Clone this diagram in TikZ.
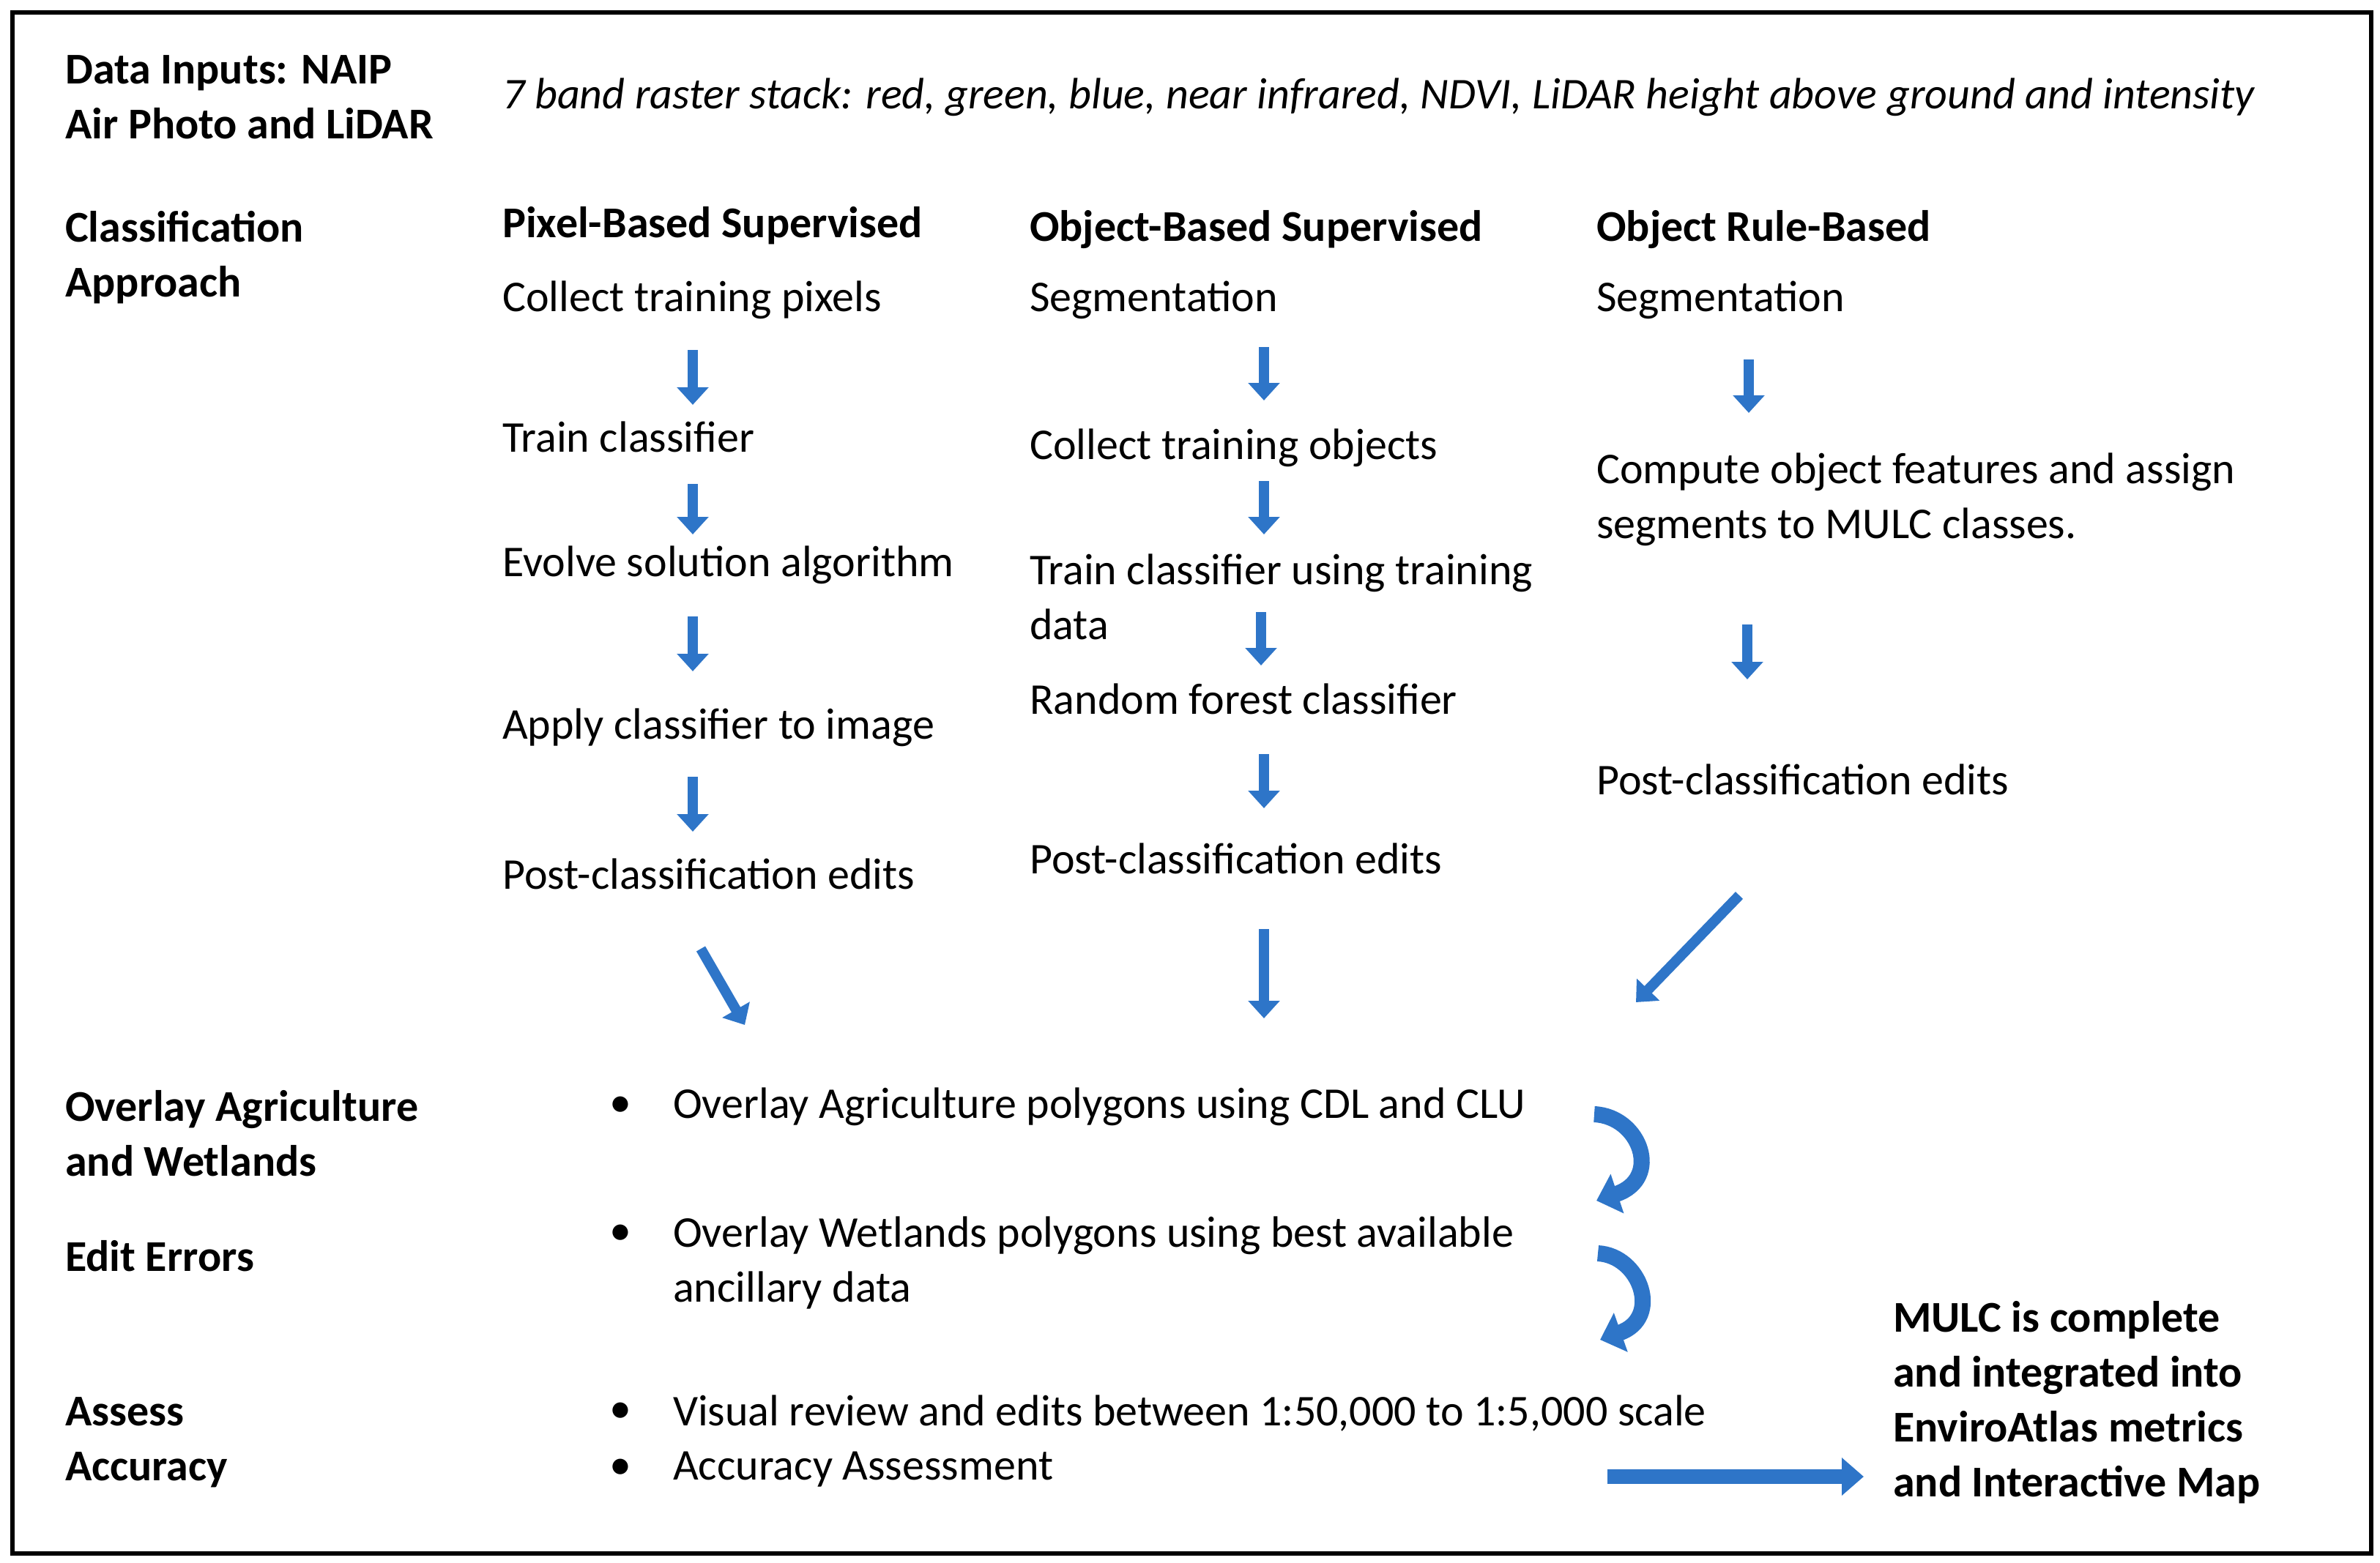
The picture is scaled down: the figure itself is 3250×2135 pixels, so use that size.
\documentclass[tikz,border=0pt]{standalone}
\usepackage{fontspec}
\setmainfont{Carlito}
\usetikzlibrary{arrows.meta}
\definecolor{ab}{RGB}{46,117,200}
\begin{document}
\begin{tikzpicture}[x=1pt,y=-1pt,
 t/.style={anchor=west,inner sep=0pt,font=\fontsize{60}{75}\selectfont,align=left},
 b/.style={t,font=\fontsize{60}{75}\selectfont\bfseries},
 ar/.style={draw=ab,line width=14pt,-{Triangle[width=42pt,length=24pt]}},
 car/.style={draw=ab,line width=22pt,-{Triangle[width=55pt,length=30pt]}}]
\useasboundingbox (0,0) rectangle (3250,2135);
\draw[line width=6pt] (17,17) rectangle (3238,2122);
% left labels
\node[b] (l1) at (89,133) {Data Inputs: NAIP\\Air Photo and LiDAR};
\node[t,font=\fontsize{60}{75}\selectfont\itshape] (in) at (686,133) {7 band raster stack: red, green, blue, near infrared, NDVI, LiDAR height above ground and intensity};
\node[b] (l2) at (89,352) {Classification\\Approach};
\node[b] (l3) at (89,1548) {Overlay Agriculture\\and Wetlands};
\node[b] (l4) at (89,1716) {Edit Errors};
\node[b] (l5) at (89,1970) {Assess\\Accuracy};
% pixel column
\node[b] (p0) at (686,308) {Pixel-Based Supervised};
\node[t] (p1) at (686,410) {Collect training pixels};
\node[t] (p2) at (686,597) {Train classifier};
\node[t] (p3) at (686,772) {Evolve solution algorithm};
\node[t] (p4) at (686,994) {Apply classifier to image};
\node[t] (p5) at (686,1194) {Post-classification edits};
\coordinate (pa1) at (946,478); \coordinate (pb1) at (946,553);
\coordinate (pa2) at (946,661); \coordinate (pb2) at (946,730);
\coordinate (pa3) at (946,842); \coordinate (pb3) at (946,917);
\coordinate (pa4) at (946,1061); \coordinate (pb4) at (946,1136);
\coordinate (pa5) at (957,1296); \coordinate (pb5) at (1017,1400);
\foreach \i in {1,...,5} \draw[ar] (pa\i) -- (pb\i);
% object column
\node[b] (o0) at (1406,314) {Object-Based Supervised};
\node[t] (o1) at (1406,410) {Segmentation};
\node[t] (o2) at (1406,612) {Collect training objects};
\node[t] (o3) at (1406,815) {Train classifier using training\\data};
\node[t] (o4) at (1406,955) {Random forest classifier};
\node[t] (o5) at (1406,1173) {Post-classification edits};
\coordinate (oa1) at (1726,474); \coordinate (ob1) at (1726,547);
\coordinate (oa2) at (1726,657); \coordinate (ob2) at (1726,730);
\coordinate (oa3) at (1722,836); \coordinate (ob3) at (1722,909);
\coordinate (oa4) at (1726,1030); \coordinate (ob4) at (1726,1104);
\coordinate (oa5) at (1726,1269); \coordinate (ob5) at (1726,1391);
\foreach \i in {1,...,5} \draw[ar] (oa\i) -- (ob\i);
% rule column
\node[b] (r0) at (2180,314) {Object Rule-Based};
\node[t] (r1) at (2180,410) {Segmentation};
\node[t] (r2) at (2180,682) {Compute object features and assign\\segments to MULC classes.};
\node[t] (r3) at (2180,1065) {Post-classification edits};
\coordinate (ra1) at (2388,491); \coordinate (rb1) at (2388,564);
\coordinate (ra2) at (2386,853); \coordinate (rb2) at (2386,928);
\coordinate (ra3) at (2375,1223); \coordinate (rb3) at (2234,1369);
\foreach \i in {1,2,3} \draw[ar] (ra\i) -- (rb\i);
% bullets
\foreach \y/\n in {1512/b1,1687/b2,1930/b3,2007/b4} \node[t] (\n) at (832,\y) {\textbullet};
\node[t] (s1) at (919,1512) {Overlay Agriculture polygons using CDL and CLU};
\node[t] (s2) at (919,1725) {Overlay Wetlands polygons using best available\\ancillary data};
\node[t] (s3) at (919,1930) {Visual review and edits between 1:50,000 to 1:5,000 scale};
\node[t] (s4) at (919,2007) {Accuracy Assessment};
% curved arrows
\coordinate (c1a) at (2177,1522); \coordinate (c1b) at (2180,1640);
\draw[car] (c1a) .. controls (2240,1525) and (2270,1610) .. (c1b);
\coordinate (c2a) at (2182,1712); \coordinate (c2b) at (2185,1830);
\draw[car] (c2a) .. controls (2240,1715) and (2270,1800) .. (c2b);
\coordinate (ha) at (2195,2017); \coordinate (hb) at (2545,2017);
\draw[draw=ab,line width=20pt,-{Triangle[width=50pt,length=30pt]}] (ha) -- (hb);
\node[b] (m) at (2585,1916) {MULC is complete\\and integrated into\\EnviroAtlas metrics\\and Interactive Map};
\end{tikzpicture}
\end{document}
